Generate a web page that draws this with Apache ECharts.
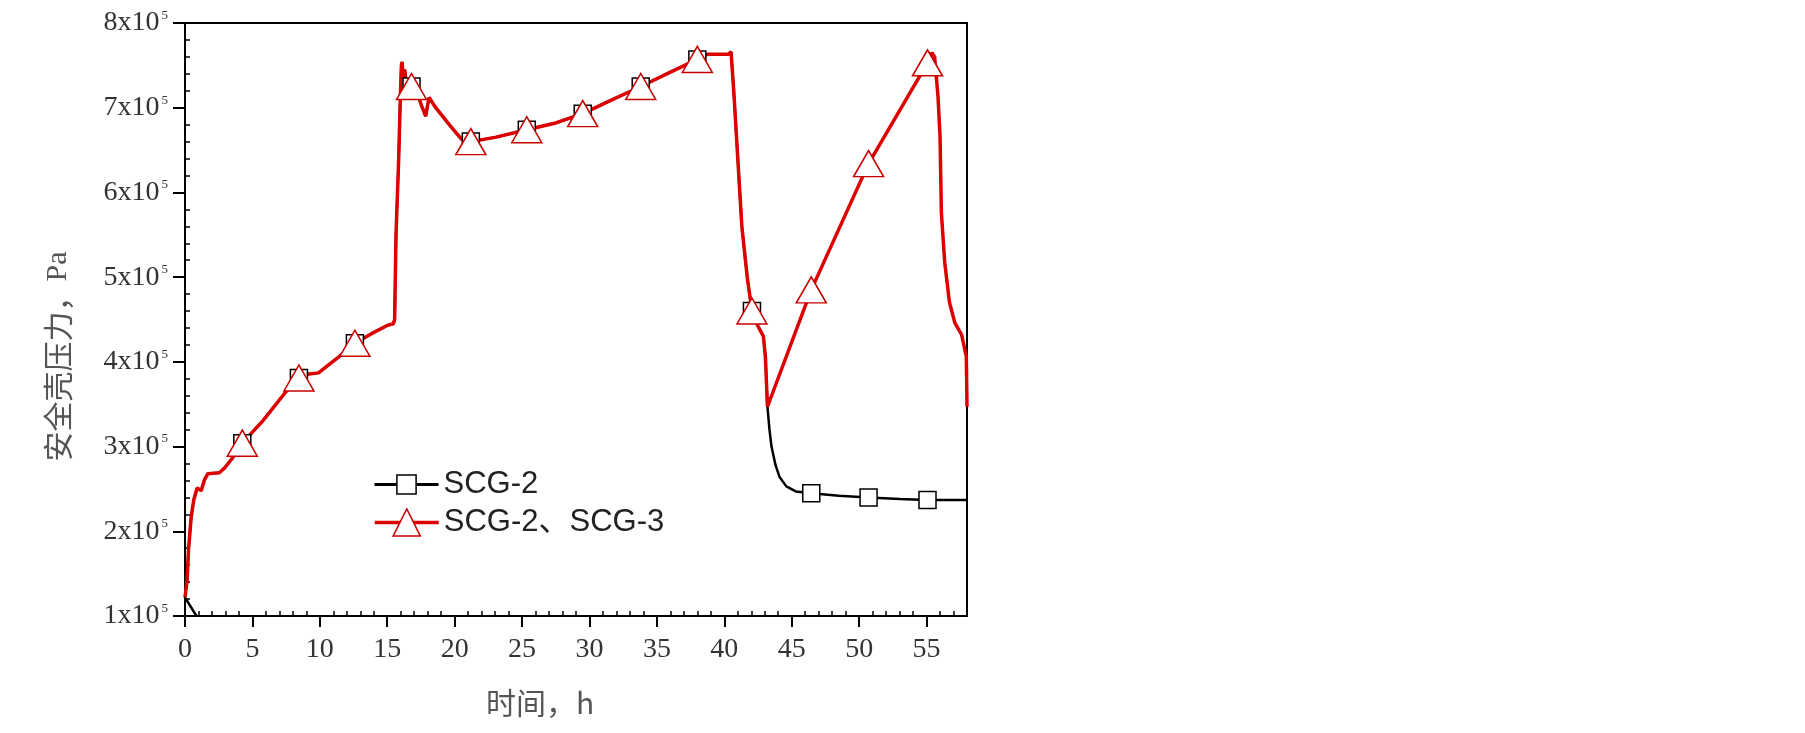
<!DOCTYPE html>
<html>
<head>
<meta charset="utf-8">
<script src="https://cdn.jsdelivr.net/npm/echarts@6/dist/echarts.min.js"></script>
<style>
  html, body { margin: 0; padding: 0; background: #fff; }
  #chart { width: 1805px; height: 733px; }
</style>
</head>
<body>
<div id="chart"></div>
<script>
// 时间 h，压力 x10^5 Pa
// 两种工况在 ~43 h 之前重合
const timeShared = [0.85, 0.0, 0.16, 0.26, 0.46, 0.65, 0.9, 1.2, 1.45, 1.7,
  2.55, 2.95, 3.45, 3.7, 4.25, 5.8, 7.5, 8.45, 8.9, 9.9,
  11.5, 12.6, 13.8, 15.0, 15.45, 15.55, 15.65, 15.85, 15.95, 16.05,
  16.1, 16.2, 16.3, 16.45, 16.8, 17.2, 17.6, 17.85, 18.1, 18.6,
  19.6, 20.5, 21.2, 23.0, 25.35, 27.5, 29.5, 31.5, 33.8, 36.0,
  38.0, 38.7, 40.3, 40.5, 40.7, 41.0, 41.3, 41.7, 42.05, 42.5,
  42.9, 43.05, 43.2]
const pressShared = [1.00, 1.22, 1.43, 1.78, 2.17, 2.37, 2.51, 2.48, 2.61, 2.68,
  2.69, 2.75, 2.85, 2.91, 3.04, 3.31, 3.65, 3.81, 3.85, 3.87,
  4.07, 4.22, 4.33, 4.43, 4.45, 4.50, 5.50, 6.40, 7.00, 7.50,
  7.54, 7.35, 7.45, 7.20, 7.25, 7.18, 7.00, 6.90, 7.12, 7.00,
  6.80, 6.63, 6.60, 6.65, 6.74, 6.82, 6.93, 7.08, 7.25, 7.42,
  7.57, 7.63, 7.63, 7.66, 7.20, 6.40, 5.60, 5.00, 4.60, 4.42,
  4.30, 4.05, 3.47]

// SCG-2
const timeScg2Tail = [43.35, 43.5, 43.8, 44.1, 44.6, 45.3, 46.45, 48.5, 50.7, 53.0, 55.07, 58.0]
const pressScg2Tail = [3.20, 3.00, 2.78, 2.64, 2.53, 2.47, 2.45, 2.42, 2.40, 2.38, 2.37, 2.37]

// SCG-2、SCG-3
const timeScg23Tail = [46.45, 50.7, 55.07, 55.4, 55.6, 55.85, 56.0, 56.1, 56.35, 56.7, 57.1, 57.6, 57.95, 58.0]
const pressScg23Tail = [4.85, 6.34, 7.53, 7.65, 7.60, 7.13, 6.66, 5.76, 5.17, 4.70, 4.46, 4.32, 4.06, 3.47]

// 标记点所在时刻
const markerTimes = [4.25, 8.45, 12.6, 16.8, 21.2, 25.35, 29.5, 33.8, 38.0, 42.05, 46.45, 50.7, 55.07]

const xTicks = [0, 5, 10, 15, 20, 25, 30, 35, 40, 45, 50, 55]

const buildData = (ts, ps) => ts.map((t, i) =>
  markerTimes.includes(t) ? [t, ps[i]] : { value: [t, ps[i]], symbol: 'none' })

const scg2Data = buildData(timeShared.concat(timeScg2Tail), pressShared.concat(pressScg2Tail))
// 红线起点从 t=0 开始（0.85 h 处那一小段只有黑线）
const scg23Data = buildData(timeShared.slice(1).concat(timeScg23Tail), pressShared.slice(1).concat(pressScg23Tail))

const RED = '#dd0000'
const serif = 'Liberation Serif'
const cjk = 'Noto Sans CJK SC'

const chart = echarts.init(document.getElementById('chart'))
chart.setOption({
  animation: false,
  backgroundColor: '#fff',
  grid: {
    left: 185, right: 838, top: 23, bottom: 117,
    show: true, borderColor: '#000', borderWidth: 2
  },
  legend: [
    {
      data: ['SCG-2'],
      left: 368, top: 464,
      itemWidth: 64, itemHeight: 24,
      lineStyle: { width: 3 },
      itemStyle: { borderWidth: 1.5 },
      textStyle: { fontFamily: 'Liberation Sans', fontSize: 31, color: '#222' }
    },
    {
      data: ['SCG-2、SCG-3'],
      left: 368, top: 502,
      itemWidth: 64, itemHeight: 34,
      lineStyle: { width: 3.5 },
      itemStyle: { borderWidth: 1.5 },
      textStyle: { fontFamily: 'Liberation Sans, ' + cjk, fontSize: 31, color: '#222' }
    }
  ],
  xAxis: {
    type: 'value',
    min: 0, max: 58, interval: 5,
    name: '时间，h',
    nameLocation: 'middle',
    nameGap: 72,
    nameTextStyle: { fontFamily: cjk, fontSize: 30, color: '#555', padding: [0, 72, 0, 0] },
    axisLine: { onZero: false, lineStyle: { color: '#000', width: 2 } },
    axisTick: { length: 11, customValues: xTicks, lineStyle: { color: '#000', width: 2 } },
    minorTick: { show: true, splitNumber: 5, length: -5, lineStyle: { color: '#000', width: 1.5 } },
    splitLine: { show: false },
    axisLabel: { customValues: xTicks, margin: 20, fontFamily: serif, fontSize: 28, color: '#333' }
  },
  yAxis: {
    type: 'value',
    min: 1, max: 8, interval: 1,
    name: '{c|安全壳压力，}{r|Pa}',
    nameLocation: 'middle',
    nameRotate: 90,
    nameGap: 112,
    nameTextStyle: {
      padding: [0, 74, 0, 0],
      rich: {
        c: { fontFamily: cjk, fontSize: 30, color: '#555' },
        r: { fontFamily: serif, fontSize: 30, color: '#555' }
      }
    },
    axisLine: { lineStyle: { color: '#000', width: 2 } },
    axisTick: { length: 12, lineStyle: { color: '#000', width: 2 } },
    minorTick: { show: true, splitNumber: 5, length: -5, lineStyle: { color: '#000', width: 1.5 } },
    splitLine: { show: false },
    axisLabel: {
      margin: 17,
      formatter: v => `{n|${v}x10}{s|5}`,
      rich: {
        n: { fontFamily: serif, fontSize: 28, color: '#333' },
        s: { fontFamily: serif, fontSize: 13, color: '#333', verticalAlign: 'top', padding: [0, 0, 0, 2] }
      }
    }
  },
  series: [
    {
      name: 'SCG-2',
      type: 'line',
      data: scg2Data,
      symbol: 'rect',
      symbolSize: 17,
      showAllSymbol: true,
      lineStyle: { color: '#000', width: 2.5 },
      itemStyle: { color: '#fff', borderColor: '#000', borderWidth: 1.5 }
    },
    {
      name: 'SCG-2、SCG-3',
      type: 'line',
      data: scg23Data,
      symbol: 'triangle',
      symbolSize: [30, 26],
      showAllSymbol: true,
      lineStyle: { color: RED, width: 3.5 },
      itemStyle: { color: '#fff', borderColor: '#c80000', borderWidth: 1.5 }
    }
  ]
})
</script>
</body>
</html>
